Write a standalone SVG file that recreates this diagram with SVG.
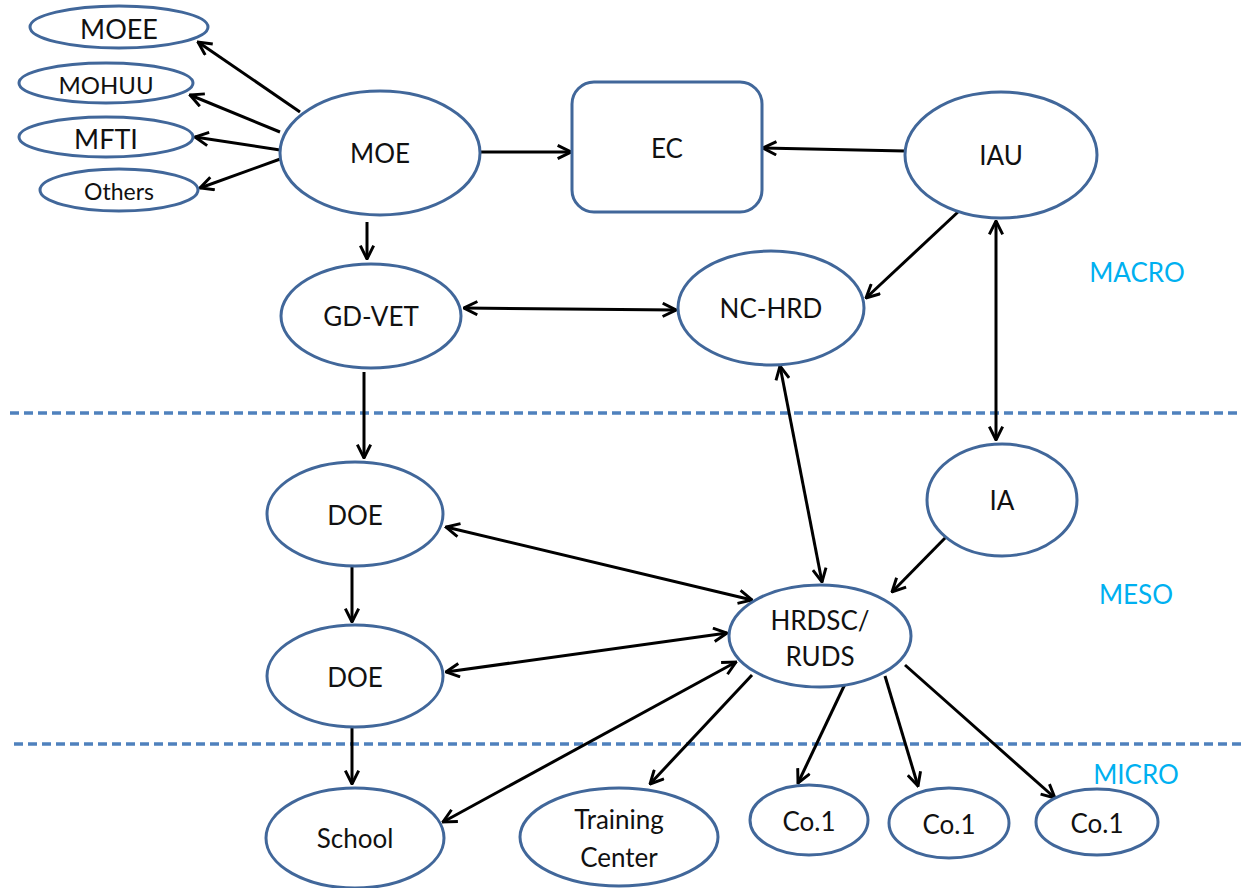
<svg xmlns="http://www.w3.org/2000/svg" width="1241" height="888" viewBox="0 0 1241 888">
<style>
.n{fill:#fff;stroke:#41679a;stroke-width:3}
.t{font-family:Lato,"Liberation Sans",sans-serif;font-size:26px;fill:#111;text-anchor:middle;dominant-baseline:central}
.c{stroke:#000;stroke-width:3;fill:none;marker-end:url(#ah)}
.d{marker-start:url(#ahs)}
.lv{font-family:Lato,"Liberation Sans",sans-serif;font-size:26px;fill:#00b0f0;text-anchor:middle;dominant-baseline:central}
.dash{stroke:#4f81bd;stroke-width:3.5;stroke-dasharray:9 5}
</style>
<defs>
<marker id="ah" viewBox="0 0 12 12" refX="11" refY="6" markerWidth="16" markerHeight="16" markerUnits="userSpaceOnUse" orient="auto">
<path d="M1,1 L11,6 L1,11" fill="none" stroke="#000" stroke-width="2.2" stroke-linejoin="miter"/>
</marker>
<marker id="ahs" viewBox="0 0 12 12" refX="11" refY="6" markerWidth="16" markerHeight="16" markerUnits="userSpaceOnUse" orient="auto-start-reverse">
<path d="M1,1 L11,6 L1,11" fill="none" stroke="#000" stroke-width="2.2" stroke-linejoin="miter"/>
</marker>
</defs>
<rect width="1241" height="888" fill="#fff"/>
<g id="levels">
<line class="dash" x1="10" y1="413" x2="1241" y2="413"/>
<line class="dash" x1="14" y1="744" x2="1241" y2="744"/>
<text class="lv" x="1137" y="272">MACRO</text>
<text class="lv" x="1136" y="594">MESO</text>
<text class="lv" x="1136" y="774">MICRO</text>
</g>
<g id="connectors">
<line class="c" x1="300" y1="112" x2="198" y2="42"/>
<line class="c" x1="280" y1="132" x2="190" y2="95"/>
<line class="c" x1="280" y1="150" x2="195" y2="137"/>
<line class="c" x1="283" y1="158" x2="200" y2="188"/>
<line class="c" x1="480" y1="152" x2="571" y2="152"/>
<line class="c" x1="905" y1="151" x2="763" y2="148"/>
<line class="c" x1="367" y1="222" x2="367" y2="259"/>
<line class="c" x1="958" y1="212" x2="866" y2="298"/>
<line class="c d" x1="996" y1="221" x2="996" y2="440"/>
<line class="c d" x1="464" y1="308" x2="676" y2="310"/>
<line class="c" x1="364" y1="372" x2="364" y2="458"/>
<line class="c d" x1="780" y1="366" x2="822" y2="582"/>
<line class="c" x1="948" y1="535" x2="892" y2="592"/>
<line class="c d" x1="446" y1="527" x2="752" y2="600"/>
<line class="c" x1="352" y1="566" x2="352" y2="622"/>
<line class="c d" x1="446" y1="672" x2="727" y2="633"/>
<line class="c" x1="352" y1="728" x2="352" y2="784"/>
<line class="c d" x1="736" y1="662" x2="443" y2="822"/>
<line class="c" x1="752" y1="675" x2="650" y2="784"/>
<line class="c" x1="845" y1="684" x2="798" y2="783"/>
<line class="c" x1="885" y1="676" x2="918" y2="786"/>
<line class="c" x1="905" y1="665" x2="1055" y2="798"/>
</g>
<g id="MOEE"><ellipse class="n" cx="119" cy="27" rx="89" ry="21"/><text class="t" x="119" y="28" style="font-size:27px">MOEE</text></g>
<g id="MOHUU"><ellipse class="n" cx="106" cy="83" rx="87" ry="20"/><text class="t" x="106" y="84" style="font-size:24px">MOHUU</text></g>
<g id="MFTI"><ellipse class="n" cx="106" cy="137" rx="87" ry="20"/><text class="t" x="106" y="138" style="font-size:27px">MFTI</text></g>
<g id="Others"><ellipse class="n" cx="119" cy="190" rx="79" ry="21"/><text class="t" x="119" y="191" style="font-size:23px">Others</text></g>
<g id="MOE"><ellipse class="n" cx="380" cy="153" rx="100" ry="62"/><text class="t" x="380" y="153">MOE</text></g>
<g id="EC"><rect class="n" x="572" y="82" width="190" height="130" rx="22"/><text class="t" x="667" y="148">EC</text></g>
<g id="IAU"><ellipse class="n" cx="1001" cy="155" rx="96" ry="63"/><text class="t" x="1001" y="155">IAU</text></g>
<g id="GD-VET"><ellipse class="n" cx="371" cy="316" rx="90" ry="52"/><text class="t" x="371" y="316">GD-VET</text></g>
<g id="NC-HRD"><ellipse class="n" cx="771" cy="308" rx="93" ry="57"/><text class="t" x="771" y="308">NC-HRD</text></g>
<g id="IA"><ellipse class="n" cx="1002" cy="500" rx="75" ry="56"/><text class="t" x="1002" y="500">IA</text></g>
<g id="DOE1"><ellipse class="n" cx="355" cy="514" rx="88" ry="52"/><text class="t" x="355" y="515">DOE</text></g>
<g id="DOE2"><ellipse class="n" cx="355" cy="676" rx="88" ry="51"/><text class="t" x="355" y="677">DOE</text></g>
<g id="HRDSC"><ellipse class="n" cx="820" cy="636" rx="91" ry="51"/><text class="t" x="820" y="620">HRDSC/</text><text class="t" x="820" y="656">RUDS</text></g>
<g id="School"><ellipse class="n" cx="355" cy="838" rx="89" ry="50"/><text class="t" x="355" y="838">School</text></g>
<g id="Training"><ellipse class="n" cx="619" cy="837" rx="99" ry="49"/><text class="t" x="619" y="819">Training</text><text class="t" x="619" y="857">Center</text></g>
<g id="Co1a"><ellipse class="n" cx="809" cy="820" rx="59" ry="35"/><text class="t" x="809" y="821">Co.1</text></g>
<g id="Co1b"><ellipse class="n" cx="949" cy="823" rx="60" ry="35"/><text class="t" x="949" y="824">Co.1</text></g>
<g id="Co1c"><ellipse class="n" cx="1097" cy="822" rx="61" ry="33"/><text class="t" x="1097" y="823">Co.1</text></g>
</svg>
